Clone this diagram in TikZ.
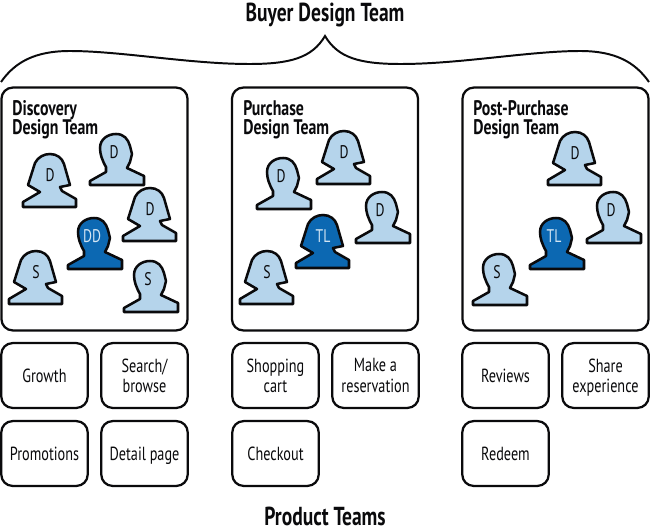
\documentclass[tikz,border=0pt]{standalone}
\usepackage{fontspec}
\setmainfont{PT Sans}[FakeStretch=0.75]
\usetikzlibrary{positioning}
\definecolor{Ink}{RGB}{10,10,12}
\definecolor{SoftBlue}{RGB}{181,212,235}
\definecolor{DeepBlue}{RGB}{12,104,178}
\tikzset{
  team/.style={draw=Ink,line width=1.6pt,rounded corners=8pt,fill=white,minimum width=4.65cm,minimum height=6.07cm},
  twoline/.style={draw=Ink,line width=1.6pt,rounded corners=8pt,fill=white,align=center,text=Ink,font=\fontsize{13.5}{14.4}\selectfont,minimum width=2.16cm,minimum height=1.62cm,inner sep=0pt},
  product/.style={twoline,execute at begin node=\rule{0pt}{14pt},execute at end node=\strut},
  heading/.style={font=\bfseries\fontsize{18.5}{20}\selectfont,text=Ink},
  teamname/.style={font=\bfseries\fontsize{15}{13.8}\selectfont,text=Ink,align=left,anchor=north west,inner sep=0pt},
  member/.style={draw=Ink,line width=1.8pt,line join=round,fill=SoftBlue},
  lead/.style={member,fill=DeepBlue},
  memberlabel/.style={font=\fontsize{13}{13}\selectfont,text=Ink,inner sep=0pt},
  leadlabel/.style={font=\fontsize{13}{13}\selectfont,text=SoftBlue!60!white,inner sep=0pt},
  woman/.pic={
    \path[pic actions] (-27,32) -- (-27,27) -- (-10,17) -- (-22,10) -- (-15,-12)
      .. controls (-12,-18) and (-6,-21) .. (0,-21) .. controls (7,-21) and (12,-17) .. (14,-11)
      -- (20,10) -- (10,12) -- (12,16) -- (26,24) -- (26,32) -- cycle;
  },
  man/.pic={
    \path[pic actions] (-24,33) -- (-24,29) -- (-8,20) -- (-8,15)
      .. controls (-12,8) and (-14,2) .. (-14,-4) .. controls (-14,-13) and (-6,-18) .. (2,-18)
      .. controls (10,-18) and (14,-13) .. (16,-6) -- (17,-2) -- (18,2) -- (16,10) -- (13,16) -- (30,24) -- (30,33) -- cycle;
  }
}
\begin{document}
\begin{tikzpicture}[x=.025cm,y=-.025cm]
  \useasboundingbox (0,0) rectangle (650,531);
  \node[heading] (buyer) at (325,15) {Buyer Design Team};
  \node[heading] (products) at (325,516) {Product Teams};
  % curly brace under the top heading
  \draw[Ink,line width=1.4pt] (1,82) .. controls (15,62) and (35,51) .. (70,51) .. controls (120,51) and (190,64) .. (249,64)
    .. controls (290,64) and (312,58) .. (325,36) .. controls (338,58) and (360,64) .. (401,64)
    .. controls (460,64) and (530,51) .. (580,51) .. controls (615,51) and (635,62) .. (649,82);
  % design teams
  \node[team] (discovery) at (94.5,209) {};
  \node[team] (purchase) at (325,209) {};
  \node[team] (post) at (555.5,209) {};
  \node[teamname] (discoveryname) at (12,100) {Discovery\\Design Team};
  \node[teamname] (purchasename) at (243,100) {Purchase\\Design Team};
  \node[teamname] (postname) at (473,100) {Post-Purchase\\Design Team};
  \foreach \x/\y/\who in {50/175/D,150/209/D,36/272/S,344/152/D,267/272/S,575/153/D}{
    \pic[member] at (\x,\y) {woman};
    \node[memberlabel] (w\x) at (\x,\y) {\who};
  }
  \foreach \x/\y/\who in {114/152/D,148/279/S,281/176/D,380/210/D,611/210/D,497/272/S}{
    \pic[member] at (\x,\y) {man};
    \node[memberlabel] (m\x) at (\x,\y) {\who};
  }
  \pic[lead] at (92,236) {man};
  \node[leadlabel] (dd) at (92,236) {DD};
  \pic[lead] at (323,236) {woman};
  \node[leadlabel] (tl) at (323,236) {TL};
  \pic[lead] at (554,236) {man};
  \node[leadlabel] (tlpost) at (554,236) {TL};
  % product teams
  \node[product] (growth) at (44.5,375.5) {Growth};
  \node[twoline] (search) at (144.5,375.5) {Search/\\browse};
  \node[product] (promotions) at (44.5,453.5) {Promotions};
  \node[product] (detail) at (144.5,453.5) {Detail page};
  \node[twoline] (cart) at (275.5,375.5) {Shopping\\cart};
  \node[twoline] (reservation) at (375.5,375.5) {Make a\\reservation};
  \node[product] (checkout) at (275.5,453.5) {Checkout};
  \node[product] (reviews) at (505.5,375.5) {Reviews};
  \node[twoline] (share) at (605.5,375.5) {Share\\\smash{experience}};
  \node[product] (redeem) at (505.5,453.5) {Redeem};
\end{tikzpicture}
\end{document}
